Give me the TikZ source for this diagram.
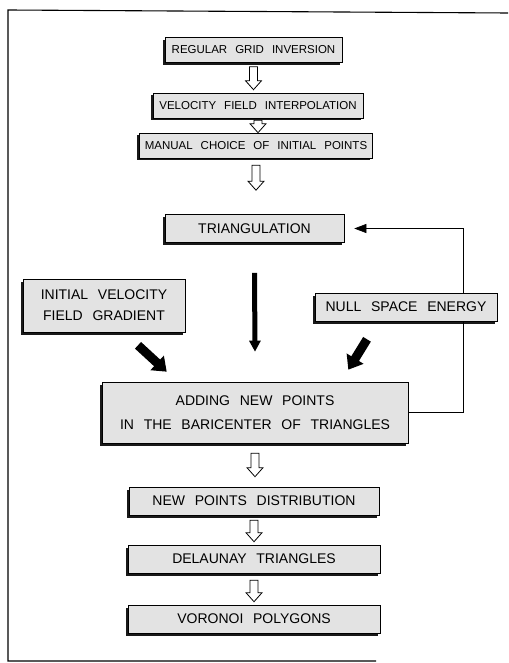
\documentclass[tikz,border=0pt]{standalone}
\usepackage{fontspec}
\setmainfont{Liberation Sans}[WordSpace=2.5]
\usepackage{tikz}
\usetikzlibrary{calc,arrows.meta,shadows,backgrounds}

% hollow block arrow: from node, to node, gap below start, gap above end
\newcommand{\hollowdown}[4]{%
  \draw[hollow] let \p1=(#1.south), \p2=(#2.north) in
    ({\x1-4pt},{\y1-#3}) -- ({\x1+4pt},{\y1-#3}) -- ({\x1+4pt},{\y2+#4+9pt})
    -- ({\x1+8pt},{\y2+#4+9pt}) -- (\x1,{\y2+#4}) -- ({\x1-8pt},{\y2+#4+9pt})
    -- ({\x1-4pt},{\y2+#4+9pt}) -- cycle;}

\begin{document}
\begin{tikzpicture}[x=1pt,y=-1pt,
    box/.style={draw=black,line width=0.6pt,fill=gray!22,inner sep=0pt,
      drop shadow={shadow xshift=-2.5pt,shadow yshift=-2.5pt,fill=black,opacity=0.9}},
    smallbox/.style={box,minimum height=25pt,font=\fontsize{11.5}{14}\selectfont},
    bigbox/.style={box,minimum height=28pt,font=\fontsize{14}{17}\selectfont,align=center},
    hollow/.style={draw=black,line width=0.8pt,fill=white},
    heavybar/.style={line width=5pt,-{Triangle[length=11pt,width=11pt]}},
    heavyslant/.style={line width=9pt,-{Triangle[length=13pt,width=19pt]}},
    feedback/.style={line width=0.6pt,-{Triangle[length=12pt,width=9pt]}}]
  \useasboundingbox (0,0) rectangle (508,663);

  % frame
  \draw[line width=1.1pt] (508,13) -- (8,10) -- (8,661) -- (376,661);

  % boxes
  \node[smallbox,minimum width=177pt] (grid) at (253.5,50) {REGULAR GRID INVERSION};
  \node[smallbox,minimum width=210pt] (velo) at (258,105.5) {VELOCITY FIELD INTERPOLATION};
  \node[smallbox,minimum width=233pt] (manual) at (256,145.5) {MANUAL CHOICE OF INITIAL POINTS};
  \node[bigbox,minimum width=179pt] (triang) at (254.5,228.5) {TRIANGULATION};
  \node[bigbox,minimum width=162pt,minimum height=53pt] (init) at (104,305.5)
    {INITIAL VELOCITY\\[4pt]FIELD GRADIENT};
  \node[bigbox,minimum width=182pt] (null) at (406,307) {NULL SPACE ENERGY};
  \node[bigbox,minimum width=306pt,minimum height=61pt] (adding) at (255,412.5)
    {ADDING NEW POINTS\\[7pt]IN THE BARICENTER OF TRIANGLES};
  \node[bigbox,minimum width=250pt] (newpts) at (254,501) {NEW POINTS DISTRIBUTION};
  \node[bigbox,minimum width=252pt] (delaunay) at (254,559) {DELAUNAY TRIANGLES};
  \node[bigbox,minimum width=252pt] (voronoi) at (254,619) {VORONOI POLYGONS};

  % hollow arrows
  \hollowdown{grid}{velo}{4pt}{3pt}
  \hollowdown{velo}{manual}{2pt}{0pt}
  \hollowdown{manual}{triang}{7pt}{24pt}
  \hollowdown{adding}{newpts}{10pt}{10pt}
  \hollowdown{newpts}{delaunay}{5pt}{3pt}
  \hollowdown{delaunay}{voronoi}{7pt}{3pt}

  % heavy arrows into the refinement step
  \draw[heavybar] ([yshift=-30pt]triang.south) -- ([yshift=30pt]adding.north);
  \draw[heavyslant] ([shift={(34,13)}]init.south) -- ([shift={(65,-10)}]adding.north west);
  \draw[heavyslant] ([shift={(-39,18)}]null.south) -- ([shift={(-60,-12)}]adding.north east);

  % loop back
  \coordinate (fbturn) at (463,228.5);
  \begin{scope}[on background layer]
    \draw[feedback] (adding.east) -| (fbturn) -- ([xshift=10pt]triang.east);
  \end{scope}
\end{tikzpicture}
\end{document}
